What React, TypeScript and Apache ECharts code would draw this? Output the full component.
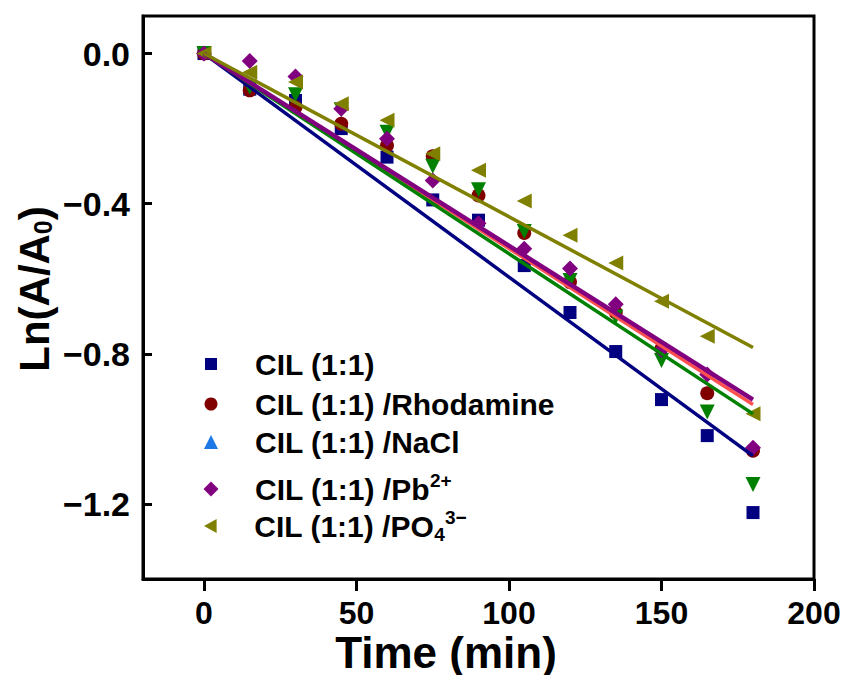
import React, { useEffect, useRef } from "react";
import * as echarts from "echarts";

// ---- data ----
const TIMES = [0, 15, 30, 45, 60, 75, 90, 105, 120, 135, 150, 165, 180];
const CIL = [0, -0.095, -0.125, -0.2, -0.276, -0.39, -0.444, -0.565, -0.69, -0.794, -0.922, -1.018, -1.223];
const RHODAMINE = [0, -0.098, -0.143, -0.187, -0.245, -0.274, -0.378, -0.478, -0.609, -0.69, -0.786, -0.905, -1.058];
const NACL_BLUE: number[] = [];
const NACL_GREEN = [0, -0.09, -0.11, -0.15, -0.21, -0.3, -0.363, -0.474, -0.605, -0.702, -0.818, -0.955, -1.148];
const PB = [0, -0.02, -0.061, -0.147, -0.227, -0.338, -0.452, -0.52, -0.573, -0.668, -0.79, -0.855, -1.05];
const PO4 = [0, -0.05, -0.076, -0.134, -0.178, -0.267, -0.311, -0.393, -0.484, -0.558, -0.66, -0.753, -0.96];

const FIT_X = [0, 180];
const CIL_FIT = [0, -1.072];
const RHODAMINE_FIT = [0, -0.935];
const NACL_FIT = [0, -0.96];
const PB_FIT = [0, -0.922];
const PO4_FIT = [0, -0.783];

const X_TICKS = [0, 50, 100, 150, 200];
const Y_TICKS = [0, -0.4, -0.8, -1.2];

const NAMES = [
  "CIL (1:1)",
  "CIL (1:1) /Rhodamine",
  "CIL (1:1) /NaCl",
  "CIL (1:1) /Pb2+",
  "CIL (1:1) /PO43-",
];
const LABELS: Record<string, string> = {
  "CIL (1:1)": "{f|CIL (1:1)}",
  "CIL (1:1) /Rhodamine": "{f|CIL (1:1) /Rhodamine}",
  "CIL (1:1) /NaCl": "{f|CIL (1:1) /NaCl}",
  "CIL (1:1) /Pb2+": "{f|CIL (1:1) /Pb}{sup|2+}",
  "CIL (1:1) /PO43-": "{f|CIL (1:1) /PO}{sub|4}{sup|3\u2212}",
};
const ROW_CENTERS = [364, 404, 442, 489, 526];
const ICON_SIZES = [12, 13, 14, 15, 14];
const ICON_CX = 211;
const TEXT_X = 255;

const FONT = "'Liberation Sans', Arial, Helvetica, sans-serif";

const pairs = (xs: number[], ys: number[]) => ys.map((y, i) => [xs[i], y]);

export default function App() {
  const ref = useRef<HTMLDivElement>(null);
  useEffect(() => {
    if (!ref.current) return;
    const chart = echarts.init(ref.current, null, { renderer: "svg" });
    const LH = 36;
    const legends = NAMES.map((name, i) => {
      const s = ICON_SIZES[i];
      const pad = TEXT_X - (ICON_CX + s / 2) - 5;
      const rich = {
        f: { fontSize: 30, fontWeight: "bold", fontFamily: FONT, color: "#000", lineHeight: LH, verticalAlign: "middle", padding: [0, 0, 0, pad] },
        sup: { fontSize: 19, fontWeight: "bold", fontFamily: FONT, color: "#000", lineHeight: 19, verticalAlign: "top" },
        sub: { fontSize: 19, fontWeight: "bold", fontFamily: FONT, color: "#000", lineHeight: 23, verticalAlign: "bottom" },
      };
      return {
        data: [name],
        left: ICON_CX - s / 2,
        top: ROW_CENTERS[i] - LH / 2,
        padding: 0,
        itemWidth: s,
        itemHeight: s,
        itemGap: 0,
        selectedMode: false,
        formatter: (n: string) => LABELS[n],
        textStyle: { fontSize: 30, fontWeight: "bold", fontFamily: FONT, color: "#000", lineHeight: LH, rich },
      };
    });
    const scatter = (name: string, data: number[], color: string, symbol: string, size: number) => ({
      type: "scatter",
      name,
      data: pairs(TIMES, data),
      symbol,
      symbolSize: size,
      itemStyle: { color, opacity: 1 },
      z: 2,
    });
    const fit = (name: string, data: number[], color: string, width: number) => ({
      type: "line",
      name,
      data: pairs(FIT_X, data),
      showSymbol: false,
      symbol: "none",
      lineStyle: { color, width },
      z: 3,
    });
    chart.setOption({
      animation: false,
      backgroundColor: "#fff",
      grid: { left: 143, right: 31, top: 16, bottom: 96, show: true, borderColor: "#000", borderWidth: 3 },
      legend: legends,
      xAxis: {
        type: "value",
        min: -20,
        max: 200,
        axisLine: { show: true, onZero: false, lineStyle: { color: "#000", width: 3 } },
        axisTick: { show: true, inside: false, length: 12, lineStyle: { color: "#000", width: 3 }, customValues: X_TICKS },
        axisLabel: {
          customValues: X_TICKS,
          margin: 18,
          fontSize: 32,
          fontWeight: "bold",
          fontFamily: FONT,
          color: "#000",
        },
        splitLine: { show: false },
      },
      yAxis: {
        type: "value",
        min: -1.4,
        max: 0.1,
        axisLine: { show: true, onZero: false, lineStyle: { color: "#000", width: 3 } },
        axisTick: { show: true, inside: true, length: 9, lineStyle: { color: "#000", width: 3 }, customValues: Y_TICKS },
        axisLabel: {
          customValues: Y_TICKS,
          margin: 13,
          fontSize: 34,
          fontWeight: "bold",
          fontFamily: FONT,
          color: "#000",
          formatter: (v: number) => (Math.abs(v) < 1e-9 ? "0.0" : "\u2212" + Math.abs(v).toFixed(1)),
        },
        splitLine: { show: false },
      },
      graphic: [
        {
          type: "text",
          x: 446,
          y: 652,
          style: {
            text: "Time (min)",
            fontSize: 44,
            fontWeight: "bold",
            fontFamily: FONT,
            fill: "#000",
            align: "center",
            verticalAlign: "middle",
          },
        },
        {
          type: "text",
          x: 34,
          y: 289,
          rotation: Math.PI / 2,
          style: {
            text: "{a|Ln(A/A}{s|0}{a|)}",
            fontSize: 42,
            fontWeight: "bold",
            fontFamily: FONT,
            fill: "#000",
            align: "center",
            verticalAlign: "middle",
            rich: {
              a: { fontSize: 42, fontWeight: "bold", fontFamily: FONT, fill: "#000", lineHeight: 42, verticalAlign: "bottom" },
              s: { fontSize: 25, fontWeight: "bold", fontFamily: FONT, fill: "#000", lineHeight: 31, verticalAlign: "bottom" },
            },
          },
        },
      ],
      series: [
        scatter(NAMES[0], CIL, "#000080", "rect", 13),
        scatter(NAMES[1], RHODAMINE, "#800000", "circle", 14),
        scatter(NAMES[2], NACL_BLUE, "#1E78E6", "triangle", 14),
        scatter("NaCl (green)", NACL_GREEN, "#008000", "path://M0,0L10,0L5,9Z", 15),
        scatter(NAMES[3], PB, "#800080", "diamond", 16),
        scatter(NAMES[4], PO4, "#808000", "path://M0,5L9,0L9,10Z", 15),
        fit("fit1", CIL_FIT, "#000080", 3.5),
        fit("fit2", RHODAMINE_FIT, "#FF5050", 3.5),
        fit("fit3", NACL_FIT, "#008000", 3.5),
        fit("fit4", PB_FIT, "#800080", 4.5),
        fit("fit5", PO4_FIT, "#808000", 3.5),
      ],
    });
    return () => chart.dispose();
  }, []);
  return <div ref={ref} style={{ position: "fixed", left: 0, top: 0, width: 845, height: 675 }} />;
}
